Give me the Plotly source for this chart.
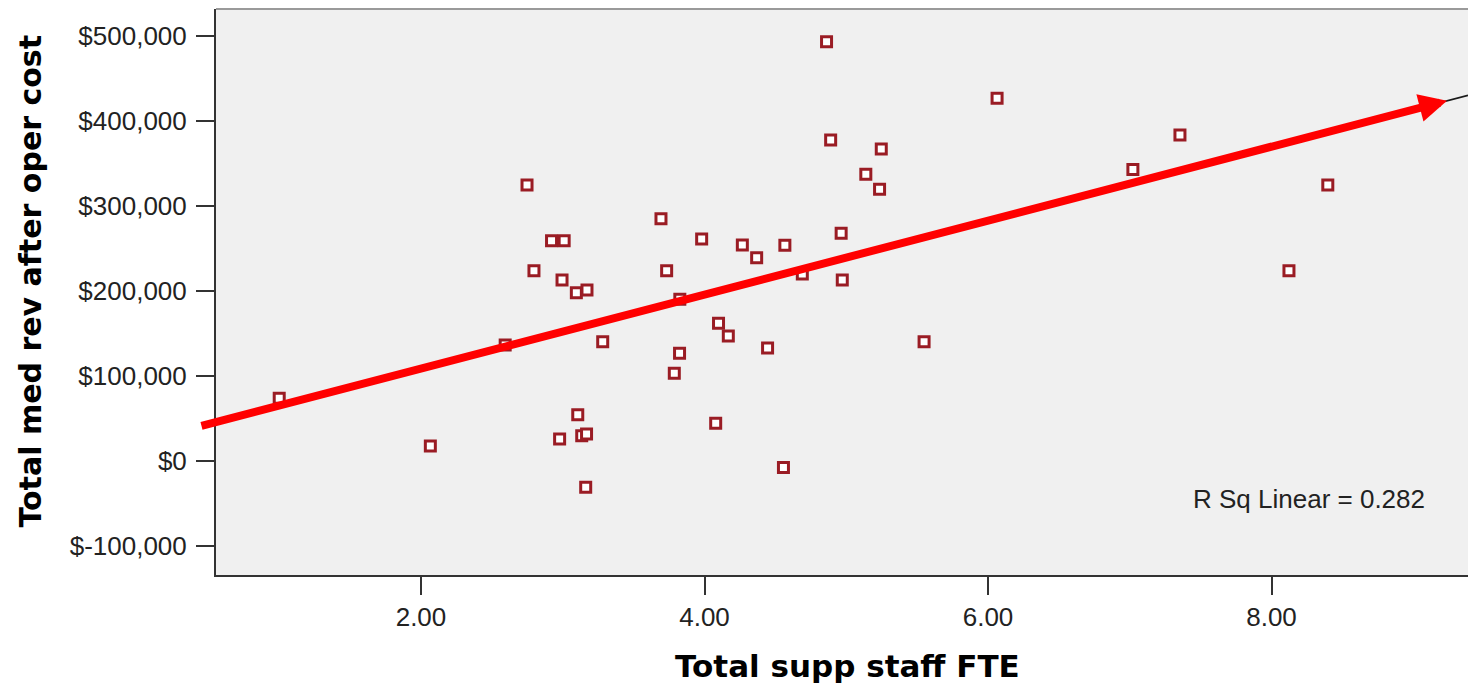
import numpy as np
import plotly.graph_objects as go

# ---- data ----
supp_staff_fte = [1.000, 2.066, 2.594, 2.748, 2.797, 2.921, 3.010, 2.995, 3.096, 3.171,
                  3.106, 2.978, 3.134, 3.168, 3.162, 3.282, 3.693, 3.733, 3.826, 3.824,
                  3.787, 3.980, 4.079, 4.099, 4.168, 4.267, 4.368, 4.445, 4.557, 4.567,
                  4.690, 4.861, 4.890, 4.964, 4.972, 5.138, 5.247, 5.235, 5.549, 6.064,
                  7.022, 7.354, 8.123, 8.397]
med_rev_after_cost = [73700, 17600, 136500, 324700, 223900, 259200, 259200, 212900, 198000, 201200,
                      54500, 25900, 29800, 31800, -31000, 140400, 285100, 223900, 190200, 126700,
                      103200, 261200, 44300, 162000, 147100, 254100, 239200, 132900, -7500, 253800,
                      220000, 493300, 377600, 267900, 212900, 337300, 367000, 319600, 140400, 426700,
                      343100, 383500, 223900, 324700]

y_tick_vals = [-100000, 0, 100000, 200000, 300000, 400000, 500000]
y_tick_text = ["$-100,000", "$0", "$100,000", "$200,000", "$300,000", "$400,000", "$500,000"]
x_tick_vals = [2, 4, 6, 8]
x_tick_text = ["2.00", "4.00", "6.00", "8.00"]

x_range = [0.554, 9.386]
y_range = [-134100, 531800]
arrow_x = [0.441, 9.238]   # tail / head of the highlighting arrow (x units)
r_sq_text = "R Sq Linear = 0.282"

# ---- linear fit ----
x_arr = np.array(supp_staff_fte)
y_arr = np.array(med_rev_after_cost)
slope, intercept = np.polyfit(x_arr, y_arr, 1)
fit_x = np.array(x_range)
fit_y = intercept + slope * fit_x

fig = go.Figure()
fig.add_trace(go.Scatter(
    x=fit_x, y=fit_y, mode="lines",
    line=dict(color="#1a1a1a", width=1.5),
    hoverinfo="skip", showlegend=False,
))
fig.add_trace(go.Scatter(
    x=supp_staff_fte, y=med_rev_after_cost, mode="markers",
    marker=dict(symbol="square", size=10, color="white",
                line=dict(color="#9a1c24", width=3)),
    showlegend=False,
))

tick_font = dict(family="Liberation Sans, Arial, sans-serif", size=26, color="#222222")
title_font = dict(family="DejaVu Sans, sans-serif", size=31, color="#000000")

fig.update_xaxes(
    range=x_range, tickvals=x_tick_vals, ticktext=x_tick_text,
    showgrid=False, zeroline=False, showline=True, linecolor="#333333", linewidth=2,
    ticks="outside", ticklen=18, tickwidth=1.5, tickcolor="#333333",
    tickfont=tick_font, ticklabelstandoff=0,
)
fig.update_yaxes(
    range=y_range, tickvals=y_tick_vals, ticktext=y_tick_text,
    showgrid=False, zeroline=False, showline=True, linecolor="#333333", linewidth=2,
    ticks="outside", ticklen=18, tickwidth=2, tickcolor="#333333",
    tickfont=tick_font, ticklabelstandoff=4,
)

ay0 = intercept + slope * arrow_x[0]
ay1 = intercept + slope * arrow_x[1]

fig.update_layout(
    width=1468, height=684,
    margin=dict(l=216, r=0, t=9, b=109),
    paper_bgcolor="white", plot_bgcolor="#f0f0f0",
    shapes=[dict(type="line", xref="paper", yref="paper", x0=0, x1=1, y0=1, y1=1,
                 line=dict(color="#9a9a9a", width=2))],
    annotations=[
        dict(x=arrow_x[1], y=ay1, xref="x", yref="y",
             ax=arrow_x[0], ay=ay0, axref="x", ayref="y",
             text="", showarrow=True, arrowhead=2, arrowsize=0.7,
             arrowwidth=8, arrowcolor="#ff0000", standoff=0, startstandoff=0),
        dict(x=0.873, y=0.134, xref="paper", yref="paper", text=r_sq_text,
             showarrow=False, xanchor="center", yanchor="middle",
             font=dict(family="Liberation Sans, Arial, sans-serif", size=26, color="#222222")),
        dict(x=(847 - 216) / 1252, y=(575 - 666) / 566, xref="paper", yref="paper",
             text="<b>Total supp staff FTE</b>", showarrow=False,
             xanchor="center", yanchor="middle", font=title_font),
        dict(x=(30 - 216) / 1252, y=(575 - 281.5) / 566, xref="paper", yref="paper",
             text="<b>Total med rev after oper cost</b>", showarrow=False, textangle=-90,
             xanchor="center", yanchor="middle",
             font=dict(family="DejaVu Sans, sans-serif", size=30, color="#000000")),
    ],
)

fig.write_html(
    "out.html",
    config={"displayModeBar": False},
    post_script="document.body.style.margin='0';document.body.style.overflow='hidden';",
)
